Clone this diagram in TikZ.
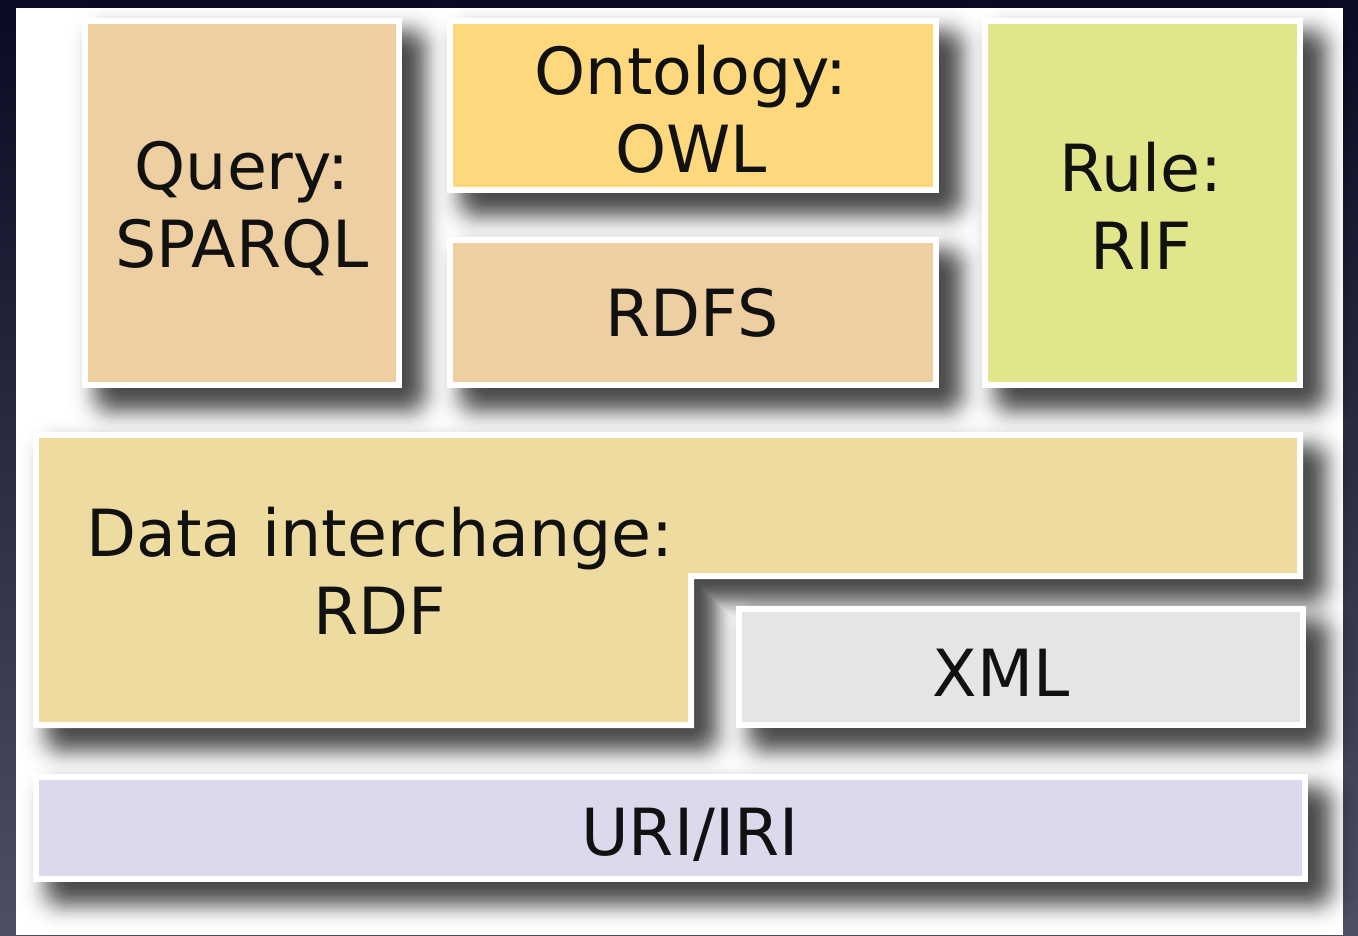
\documentclass[tikz,border=0pt]{standalone}
\usepackage{fontspec}
\setmainfont{DejaVu Sans}
\definecolor{qcol}{RGB}{238,207,161}
\definecolor{ocol}{RGB}{253,216,125}
\definecolor{rcol}{RGB}{226,230,138}
\definecolor{dcol}{RGB}{238,219,160}
\definecolor{xcol}{RGB}{229,229,229}
\definecolor{ucol}{RGB}{218,218,236}
\definecolor{bgtop}{RGB}{10,10,34}
\definecolor{bgbot}{RGB}{78,78,100}
\definecolor{txt}{RGB}{17,17,17}
\newcommand\myshadow[4]{%
  \foreach \r in {-32,-30,...,32}{%
    \pgfmathsetmacro\rc{max(1,(\r+32)*0.6)}%
    \pgfmathsetmacro\al{0.08*exp(-(\r/17)^2)}%
    \fill[black,opacity=\al,rounded corners=\rc pt]
      ({#1-\r+18},{#2-\r+18}) rectangle ({#3+\r+18},{#4+\r+18});
  }}
\newcommand\myshadowL[6]{%
  \foreach \r in {-32,-30,...,32}{%
    \pgfmathsetmacro\rc{max(1,(\r+32)*0.6)}%
    \pgfmathsetmacro\al{0.08*exp(-(\r/17)^2)}%
    \fill[black,opacity=\al,rounded corners=\rc pt]
      ({#1-\r+18},{#2-\r+18}) rectangle ({#3+\r+18},{#4+\r+18})
      ({#1-\r+18},{#2-\r+18}) rectangle ({#5+\r+18},{#6+\r+18});
  }}
\begin{document}
\begin{tikzpicture}[x=1pt,y=-1pt,
  box/.style={draw=white,line width=6pt,inner sep=0pt},
  lbl/.style={inner sep=0pt,align=center,text=txt,font=\fontsize{65}{78}\selectfont}]
\useasboundingbox (0,0) rectangle (1358,935);
\shade[top color=bgtop,bottom color=bgbot] (0,0) rectangle (1358,935);
\fill[white] (16,8) rectangle (1343,935);
% shadows (outer white edges)
\myshadow{82}{18}{402}{388}
\myshadow{447}{18}{939}{193}
\myshadow{447}{237}{939}{388}
\myshadow{982}{18}{1303}{388}
\myshadowL{33}{432}{1303}{579}{694}{728}
\myshadow{736}{606}{1306}{728}
\myshadow{33}{774}{1308}{882}
% boxes
\node[box,fill=qcol,minimum width=314,minimum height=364] (query) at (242,203) {};
\node[box,fill=ocol,minimum width=486,minimum height=169] (ont) at (693,105.5) {};
\node[box,fill=qcol,minimum width=486,minimum height=145] (rdfs) at (693,312.5) {};
\node[box,fill=rcol,minimum width=315,minimum height=364] (rule) at (1142.5,203) {};
\fill[white] (33,432) rectangle (1303,579) (33,432) rectangle (694,728);
\fill[dcol] (39,438) rectangle (1297,573) (39,438) rectangle (688,722);
\node[box,fill=xcol,minimum width=564,minimum height=116] (xml) at (1021,667) {};
\node[box,fill=ucol,minimum width=1269,minimum height=102] (uri) at (670.5,828) {};
% labels
\node[lbl] (queryt) at (242,209) {Query:\\SPARQL};
\node[lbl] (ontt) at (691,109) {Ontology:\\OWL};
\node[lbl] (rdfst) at (692,313) {RDFS};
\node[lbl] (rulet) at (1141,206) {Rule:\\RIF};
\node[lbl] (data) at (380,571) {Data interchange:\\RDF};
\node[lbl] (xmlt) at (1001,673) {XML};
\node[lbl] (urit) at (690,835) {URI/IRI};
\end{tikzpicture}
\end{document}
